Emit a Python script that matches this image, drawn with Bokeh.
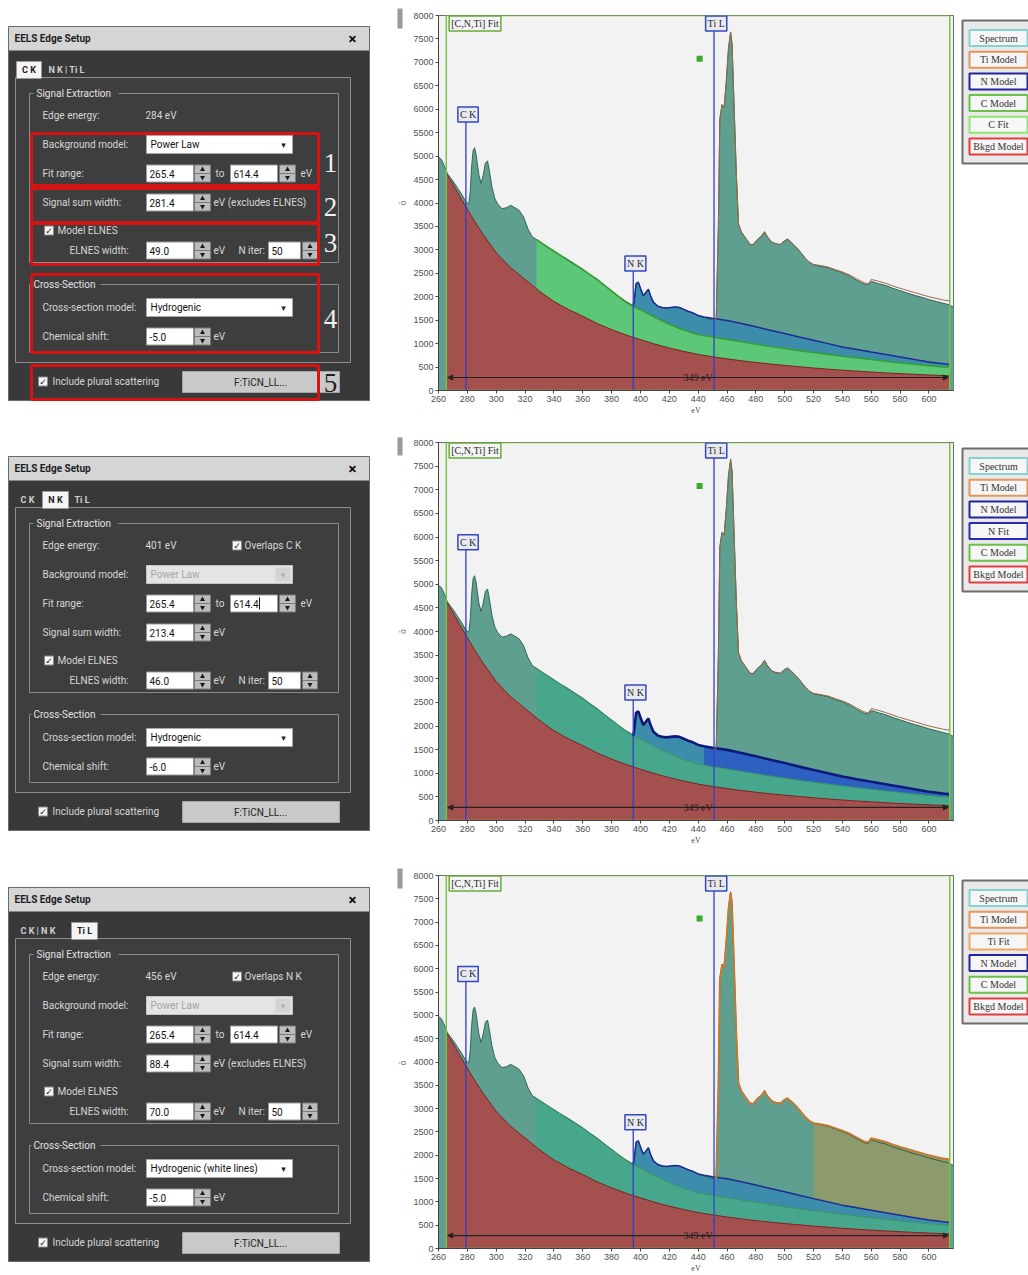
from bokeh.plotting import figure
from bokeh.models import Range1d, FixedTicker, Label, Arrow, NormalHead
from bokeh.layouts import row, column
from bokeh.embed import file_html
from bokeh.resources import INLINE
from bokeh.core.properties import value

# ---------------- data ----------------
spectrum_ev = [260, 262, 264, 266, 268, 270, 273, 276, 279, 281, 282, 283, 284, 285, 286, 288, 289.5, 291,
               292.5, 294, 295.5, 297, 299, 301, 304, 307, 310, 313, 316, 319, 322, 325, 328, 331, 335, 340,
               345, 350, 355, 360, 365, 370, 375, 380, 385, 390, 394, 395.5, 397, 398.5, 400, 402, 404, 405.5,
               407, 409, 412, 415, 418, 421, 424, 427, 430, 433, 436, 440, 444, 448, 451, 452.5, 454, 455,
               456.5, 458, 459.5, 461, 462.5, 463.5, 465, 466.5, 468, 470, 473, 476, 478, 481, 484, 486, 488,
               491, 494, 497, 500, 502, 505, 508, 511, 514, 517, 520, 525, 530, 535, 540, 545, 550, 555, 558,
               560, 565, 570, 575, 580, 585, 590, 595, 600, 605, 610, 614, 616, 618]
spectrum_counts = [4980, 4930, 4800, 4640, 4550, 4470, 4330, 4190, 4030, 3980, 4250, 4800, 5120, 5180, 5050,
                   4600, 4420, 4600, 4850, 4900, 4650, 4350, 4100, 3980, 3880, 3900, 3950, 3900, 3840, 3700,
                   3450, 3280, 3220, 3160, 3080, 2980, 2880, 2790, 2690, 2590, 2470, 2360, 2240, 2130, 2010,
                   1900, 1830, 1880, 2280, 2310, 2180, 2020, 2100, 2160, 2020, 1880, 1800, 1770, 1760, 1770,
                   1780, 1770, 1730, 1690, 1660, 1600, 1560, 1520, 1500, 1520, 3500, 5800, 6100, 6050, 6600,
                   7300, 7650, 7400, 6000, 4600, 3550, 3380, 3250, 3120, 3110, 3220, 3300, 3390, 3280, 3170,
                   3130, 3120, 3200, 3230, 3150, 3060, 2950, 2830, 2740, 2680, 2650, 2620, 2560, 2510, 2440,
                   2350, 2270, 2250, 2330, 2280, 2240, 2180, 2130, 2080, 2030, 1990, 1940, 1900, 1860, 1830,
                   1790, 1790]

bkgd_ev = [265.4, 270, 275, 280, 285, 290, 300, 310, 320, 330, 340, 350, 360, 370, 380, 390, 400, 410, 420,
           430, 440, 450, 460, 470, 480, 490, 500, 510, 520, 530, 540, 550, 560, 570, 580, 590, 600, 610, 614.4]
bkgd_counts = [4630, 4400, 4130, 3870, 3610, 3370, 2940, 2620, 2370, 2120, 1900, 1730, 1585, 1430, 1300,
               1185, 1085, 990, 907, 835, 770, 720, 675, 635, 598, 565, 535, 507, 480, 456, 434, 413, 394,
               376, 360, 345, 331, 318, 312]

c_model_ev = [328, 335, 340, 350, 360, 370, 380, 390, 395, 400, 410, 420, 430, 440, 450, 460, 470, 480, 490,
              500, 510, 520, 530, 540, 550, 560, 570, 580, 590, 600, 610, 614.4]
c_model_counts = [3220, 3070, 2970, 2770, 2580, 2370, 2120, 1880, 1790, 1720, 1560, 1410, 1290, 1190, 1140,
                  1090, 1040, 990, 940, 895, 850, 810, 770, 730, 695, 660, 625, 590, 560, 530, 505, 495]

n_model_ev = [395, 395.5, 397, 398.5, 400, 402, 404, 405.5, 407, 409, 412, 415, 418, 421, 424, 427, 430, 433,
              436, 440, 444, 450, 460, 470, 480, 490, 500, 510, 520, 530, 540, 550, 560, 570, 580, 590, 600,
              610, 614.4]
n_model_counts = [1790, 1880, 2280, 2310, 2180, 2020, 2100, 2160, 2020, 1880, 1800, 1770, 1760, 1770, 1780,
                  1770, 1730, 1690, 1660, 1600, 1570, 1540, 1495, 1430, 1360, 1285, 1215, 1140, 1070, 1000,
                  930, 875, 820, 768, 715, 660, 610, 572, 557]

ti_model_ev = [451, 452.5, 454, 455, 456.5, 458, 459.5, 461, 462.5, 463.5, 465, 466.5, 468, 470, 473, 476,
               478, 481, 484, 486, 488, 491, 494, 497, 500, 502, 505, 508, 511, 514, 517, 520, 525, 530, 535,
               540, 545, 550, 555, 558, 560, 565, 570, 575, 580, 585, 590, 595, 600, 605, 610, 614.4]
ti_model_counts = [1500, 1520, 3450, 5750, 6080, 6030, 6580, 7280, 7630, 7380, 5980, 4580, 3540, 3370, 3240,
                   3110, 3100, 3210, 3290, 3370, 3270, 3160, 3120, 3110, 3190, 3220, 3140, 3050, 2940, 2830,
                   2740, 2690, 2665, 2635, 2580, 2530, 2465, 2380, 2300, 2275, 2370, 2330, 2285, 2230, 2180,
                   2135, 2090, 2045, 2000, 1965, 1930, 1910]

x_ticks = [260, 280, 300, 320, 340, 360, 380, 400, 420, 440, 460, 480, 500, 520, 540, 560, 580, 600]
y_ticks = [0, 500, 1000, 1500, 2000, 2500, 3000, 3500, 4000, 4500, 5000, 5500, 6000, 6500, 7000, 7500, 8000]

edge_names = ["C K", "N K", "Ti L"]
edge_ev = [279, 395, 451]
elnes_end_ev = [328, 441, 519]
fit_range_ev = [265.4, 614.4]
fit_width_text = "349 eV"
fit_marker = [441, 7080]

legend_names = [["Spectrum", "Ti Model", "N Model", "C Model", "C Fit", "Bkgd Model"],
                ["Spectrum", "Ti Model", "N Model", "N Fit", "C Model", "Bkgd Model"],
                ["Spectrum", "Ti Model", "Ti Fit", "N Model", "C Model", "Bkgd Model"]]

tab_names = ["C K", "N K", "Ti L"]
edge_energy = ["284 eV", "401 eV", "456 eV"]
overlaps = [None, "Overlaps C K", "Overlaps N K"]
bkg_model = ["Power Law", "Power Law", "Power Law"]
fit_from = ["265.4", "265.4", "265.4"]
fit_to = ["614.4", "614.4", "614.4"]
signal_sum = ["281.4", "213.4", "88.4"]
signal_note = ["eV (excludes ELNES)", "eV", "eV (excludes ELNES)"]
elnes_width = ["49.0", "46.0", "70.0"]
n_iter = ["50", "50", "50"]
xs_model = ["Hydrogenic", "Hydrogenic", "Hydrogenic (white lines)"]
chem_shift = ["-5.0", "-6.0", "-5.0"]
plural_file = "F:TiCN_LL..."

# ---------------- styles ----------------
UI = "Roboto"
SERIF = "Liberation Serif"
BODY = "#393939"
PAGE = "#3e3e3e"
LBL = "#d6d6d6"

DIALOG_W, CHART_W, LEG_W = 408, 548, 72
ROWS = [dict(h=435, top=15, frame=375, t=26, leg=20, handle=(8, 28), left=30),
        dict(h=431, top=7, frame=378, t=21, leg=13, handle=(2, 20), left=28),
        dict(h=409, top=9, frame=375, t=21, leg=14, handle=(2, 22), left=30)]


def canvas(w, h, x0=0):
    p = figure(width=w, height=h, x_range=Range1d(x0, x0 + w), y_range=Range1d(h, 0),
               output_backend="svg", toolbar_location=None,
               x_axis_location=None, y_axis_location=None, min_border=0)
    p.outline_line_color = None
    p.grid.visible = False
    p.background_fill_color = "white"
    p.border_fill_color = "white"
    return p


def R(p, x0, y0, x1, y1, fill=None, line=None, lw=1.0):
    p.quad(left=[x0], right=[x1], top=[y0], bottom=[y1], fill_color=fill, line_color=line, line_width=lw)


def T(p, x, y, s, size=10, color=LBL, align="left", style="normal", font=UI):
    p.text(x=[x], y=[y], text=[s], text_font=value(font), text_font_size=value(f"{size}px"),
           text_color=color, text_align=align, text_baseline="middle", text_font_style=style)


def field(p, x0, x1, yc, s):
    R(p, x0, yc - 8.5, x1, yc + 8.5, fill="#ffffff", line="#9a9a9a")
    T(p, x0 + 3, yc, s, color="#111111")


def spinner(p, x0, x1, yc):
    R(p, x0, yc - 8.5, x1, yc + 8.5, fill="#bcbcbc", line="#7a7a7a")
    p.segment(x0=[x0], y0=[yc], x1=[x1], y1=[yc], line_color="#7a7a7a", line_width=1)
    xm = (x0 + x1) / 2
    p.scatter(x=[xm], y=[yc - 4], marker="triangle", size=5, fill_color="#1a1a1a", line_color=None)
    p.scatter(x=[xm], y=[yc + 4], marker="inverted_triangle", size=5, fill_color="#1a1a1a", line_color=None)


def dropdown(p, x0, x1, yc, s, disabled=False):
    if disabled:
        R(p, x0, yc - 9, x1, yc + 9, fill="#e4e4e4", line="#c4c4c4")
        T(p, x0 + 4, yc, s, color="#a4a4a4")
        R(p, x1 - 17, yc - 7, x1 - 2, yc + 7, fill="#d4d4d4", line=None)
        T(p, x1 - 9.5, yc, "▾", size=9, color="#b0b0b0", align="center", font="DejaVu Sans")
    else:
        R(p, x0, yc - 9, x1, yc + 9, fill="#ffffff", line="#a8a8a8")
        T(p, x0 + 4, yc, s, color="#111111")
        T(p, x1 - 9, yc, "▾", size=9, color="#222222", align="center", font="DejaVu Sans")


def checkbox(p, x0, yc):
    R(p, x0, yc - 4.5, x0 + 9, yc + 4.5, fill="#f6f6f6", line="#888888")
    T(p, x0 + 4.5, yc, "✓", size=9, color="#222222", align="center", style="bold", font="DejaVu Sans")


TABS = [dict(active=(8, 33), others=[(40, "N K | Ti L")]),
        dict(active=(34, 60), others=[(12, "C K"), (66, "Ti L")]),
        dict(active=(63, 89), others=[(12, "C K | N K")])]


def draw_dialog(p, k, cfg):
    t = cfg["t"]
    Y = lambda d: t + d
    # scroll handle of the chart pane
    R(p, 389, cfg["handle"][0], 394, cfg["handle"][1], fill="#9a9a9a", line=None)
    # dialog body
    R(p, 0, Y(0), 361, Y(374), fill=BODY, line="#6a6a6a")
    R(p, 0.5, Y(0.5), 360.5, Y(24), fill="#d5d5d5", line=None)
    T(p, 6, Y(12), "EELS Edge Setup", size=10, color="#1e1e1e", style="bold")
    T(p, 344, Y(12), "×", size=15, color="#111111", align="center", style="bold")
    R(p, 7, Y(51), 342, Y(336), fill=PAGE, line="#8e8e8e")
    a0, a1 = TABS[k]["active"]
    R(p, a0, Y(35), a1, Y(52), fill="#f5f5f5", line="#9a9a9a")
    T(p, (a0 + a1) / 2, Y(43.5), tab_names[k], size=9, color="#222222", align="center", style="bold")
    for x, s in TABS[k]["others"]:
        T(p, x, Y(43.5), s, size=9, color="#d0d0d0", style="bold")
    # Signal Extraction group
    R(p, 21, Y(67), 330, Y(236), fill=None, line="#8a8a8a")
    R(p, 25, Y(61), 110, Y(73), fill=PAGE, line=None)
    T(p, 28, Y(67), "Signal Extraction", color="#e2e2e2")
    T(p, 34, Y(89), "Edge energy:")
    T(p, 137, Y(89), edge_energy[k])
    if overlaps[k]:
        checkbox(p, 224, Y(89))
        T(p, 236, Y(89), overlaps[k])
    disabled = k > 0
    T(p, 34, Y(118), "Background model:")
    dropdown(p, 138, 284, Y(118), bkg_model[k], disabled)
    T(p, 34, Y(147), "Fit range:")
    field(p, 138, 185, Y(147), fit_from[k])
    spinner(p, 186, 202, Y(147))
    T(p, 207, Y(147), "to")
    field(p, 222, 269, Y(147), fit_to[k])
    if k == 1:
        p.segment(x0=[251], y0=[Y(141)], x1=[251], y1=[Y(153)], line_color="#111111", line_width=1)
    spinner(p, 271, 287, Y(147))
    T(p, 292, Y(147), "eV")
    T(p, 34, Y(176), "Signal sum width:")
    field(p, 138, 185, Y(176), signal_sum[k])
    spinner(p, 186, 202, Y(176))
    T(p, 205, Y(176), signal_note[k])
    checkbox(p, 36, Y(204))
    T(p, 49, Y(204), "Model ELNES")
    T(p, 61, Y(224), "ELNES width:")
    field(p, 138, 185, Y(224), elnes_width[k])
    spinner(p, 186, 202, Y(224))
    T(p, 205, Y(224), "eV")
    T(p, 230, Y(224), "N iter:")
    field(p, 260, 292, Y(224), n_iter[k])
    spinner(p, 294, 309, Y(224))
    # Cross-Section group
    R(p, 21, Y(258), 330, Y(326), fill=None, line="#8a8a8a")
    R(p, 23, Y(252), 92, Y(264), fill=PAGE, line=None)
    T(p, 25, Y(258), "Cross-Section", color="#e2e2e2")
    T(p, 34, Y(281), "Cross-section model:")
    dropdown(p, 138, 284, Y(281), xs_model[k])
    T(p, 34, Y(310), "Chemical shift:")
    field(p, 138, 185, Y(310), chem_shift[k])
    spinner(p, 186, 202, Y(310))
    T(p, 205, Y(310), "eV")
    # bottom line
    checkbox(p, 30, Y(355))
    T(p, 44, Y(355), "Include plural scattering")
    R(p, 174, Y(345), 331, Y(366), fill="#c9c9c9", line="#a6a6a6")
    T(p, 252, Y(355.5), plural_file, color="#222222", align="center")
    if k == 0:
        red = "#d41414"
        for (y0, y1) in [(107, 159), (162, 196), (197, 238), (248, 326), (339, 373)]:
            R(p, 23, Y(y0), 310, Y(y1), fill=None, line=red, lw=3)
        for s, yy, col in [("1", 136, "#f0f0f0"), ("2", 180, "#f0f0f0"), ("3", 216, "#f0f0f0"),
                           ("4", 292, "#f0f0f0"), ("5", 356, "#222222")]:
            T(p, 322, Y(yy), s, size=27, color=col, align="center", font=SERIF)
    # rotated y-axis glyph of the chart pane
    yc = cfg["top"] + cfg["frame"] / 2
    p.text(x=[395], y=[yc], text=["ŏ"], text_font=value("DejaVu Sans"), text_font_size=value("8px"),
           text_color="#777777", text_align="center", text_baseline="middle", angle=1.5708)


def draw_chart(k, cfg):
    h, top, fr, left = cfg["h"], cfg["top"], cfg["frame"], cfg["left"]
    p = figure(width=CHART_W, height=h, x_range=Range1d(260, 617), y_range=Range1d(0, 8000),
               output_backend="svg", toolbar_location=None,
               min_border_left=left, min_border_right=31 - left, min_border_top=top,
               min_border_bottom=h - top - fr)
    p.background_fill_color = "#f2f2f2"
    p.border_fill_color = "white"
    p.outline_line_color = "#66735c"
    p.grid.visible = False
    p.xaxis.ticker = FixedTicker(ticks=x_ticks)
    p.yaxis.ticker = FixedTicker(ticks=y_ticks)
    for ax in (p.xaxis[0], p.yaxis[0]):
        ax.axis_line_color = "#444444"
        ax.major_tick_line_color = "#444444"
        ax.major_tick_out = 3
        ax.major_tick_in = 0
        ax.minor_tick_line_color = None
        ax.major_label_text_font = "Liberation Sans"
        ax.major_label_text_font_size = "9px"
        ax.major_label_text_color = "#505050"
        ax.major_label_standoff = 2
    p.xaxis.axis_label = "eV"
    p.xaxis.axis_label_text_font = SERIF
    p.xaxis.axis_label_text_font_size = "8px"
    p.xaxis.axis_label_text_font_style = "normal"
    p.xaxis.axis_label_text_color = "#444444"
    p.xaxis.axis_label_standoff = 1

    # layered fills (painter order)
    p.varea(x=spectrum_ev, y1=0, y2=spectrum_counts, fill_color="#5e9f8f")
    if k == 2:
        idx = [i for i, e in enumerate(ti_model_ev) if e >= elnes_end_ev[2]]
        p.varea(x=[ti_model_ev[i] for i in idx], y1=0, y2=[ti_model_counts[i] for i in idx],
                fill_color="#8d9a6b")
    p.varea(x=n_model_ev, y1=0, y2=n_model_counts, fill_color="#3e8cab")
    if k == 1:
        idx = [i for i, e in enumerate(n_model_ev) if e >= elnes_end_ev[1]]
        p.varea(x=[n_model_ev[i] for i in idx], y1=0, y2=[n_model_counts[i] for i in idx],
                fill_color="#2e60c2")
    p.varea(x=c_model_ev, y1=0, y2=c_model_counts, fill_color="#5cc877" if k == 0 else "#47a78c")
    p.varea(x=bkgd_ev, y1=0, y2=bkgd_counts, fill_color="#a4504e")

    # model / data lines
    p.line(spectrum_ev, spectrum_counts, line_color="#2c5a4c", line_width=0.9)
    p.line(bkgd_ev, bkgd_counts, line_color="#7a2424", line_width=1)
    p.line(c_model_ev, c_model_counts, line_color="#36a036" if k == 0 else "#3a9860",
           line_width=1.6 if k == 0 else 1)
    p.line(n_model_ev, n_model_counts, line_color="#0e1a7a" if k == 1 else "#1d2b92",
           line_width=2.6 if k == 1 else 1.5)
    p.line(ti_model_ev, ti_model_counts, line_color="#c87a2c" if k == 2 else "#9a6a44",
           line_width=1.8 if k == 2 else 1)

    # fit range frame and width arrow
    p.quad(left=[fit_range_ev[0]], right=[fit_range_ev[1]], bottom=[0], top=[8000],
           fill_color=None, line_color="#7cc04a", line_width=1.5)
    p.add_layout(Arrow(start=NormalHead(size=5, fill_color="#222222", line_color="#222222"),
                       end=NormalHead(size=5, fill_color="#222222", line_color="#222222"),
                       x_start=fit_range_ev[0] + 1, y_start=277, x_end=fit_range_ev[1] - 1, y_end=277,
                       line_color="#222222", line_width=1.2))
    p.add_layout(Label(x=(fit_range_ev[0] + fit_range_ev[1]) / 2, y=277, text=fit_width_text,
                       text_font=SERIF, text_font_size="10px", text_color="#1e1e1e",
                       text_align="center", text_baseline="middle"))
    p.scatter(x=[fit_marker[0]], y=[fit_marker[1]], marker="square", size=6,
              fill_color="#3aaa2a", line_color=None)
    p.add_layout(Label(x=fit_range_ev[0] + 2, y=7830, text="[C,N,Ti] Fit", text_font=SERIF,
                       text_font_size="10px", text_color="#2a2a2a", text_align="left",
                       text_baseline="middle", background_fill_color="#f4f4f4",
                       border_line_color="#6aaa3a", border_line_width=1.5, padding=2))

    # edge markers
    label_y = [5890, 2710, 7830]
    line_top = [5740, 2570, 8000]
    for j in range(3):
        p.segment(x0=[edge_ev[j]], y0=[0], x1=[edge_ev[j]], y1=[line_top[j]],
                  line_color="#3040cc", line_width=1.3)
        p.add_layout(Label(x=edge_ev[j] + 1.5, y=label_y[j], text=edge_names[j], text_font=SERIF,
                           text_font_size="10px", text_color="#2a2a2a", text_align="center",
                           text_baseline="middle", background_fill_color="#e9e9f2",
                           border_line_color="#3448c0", border_line_width=1.5, padding=2))
    return p


LEG_COLORS = {"Spectrum": "#86d2d2", "Ti Model": "#e0975a", "Ti Fit": "#f0a866", "N Model": "#2424a0",
              "N Fit": "#2a2ab4", "C Model": "#6cc048", "C Fit": "#8ee870", "Bkgd Model": "#e23c3c"}


def draw_legend(k, cfg):
    p = canvas(LEG_W, cfg["h"])
    t = cfg["leg"]
    R(p, 6, t, 80, t + 143, fill="#e9e9e9", line="#6c6c6c", lw=2)
    for i, name in enumerate(legend_names[k]):
        yc = t + 17.5 + 21.7 * i
        R(p, 13, yc - 8, 71, yc + 8, fill="#f6f6f6", line=LEG_COLORS[name], lw=2)
        T(p, 42, yc, name, size=10, color="#333333", align="center", font=SERIF)
    return p


dialogs, charts, legends = [], [], []
for k, cfg in enumerate(ROWS):
    d = canvas(DIALOG_W, cfg["h"], x0=-8)
    draw_dialog(d, k, cfg)
    dialogs.append(d)
    charts.append(draw_chart(k, cfg))
    legends.append(draw_legend(k, cfg))

layout = row(column(*dialogs), column(*charts), column(*legends))
open("out.html", "w").write(file_html(layout, INLINE))
